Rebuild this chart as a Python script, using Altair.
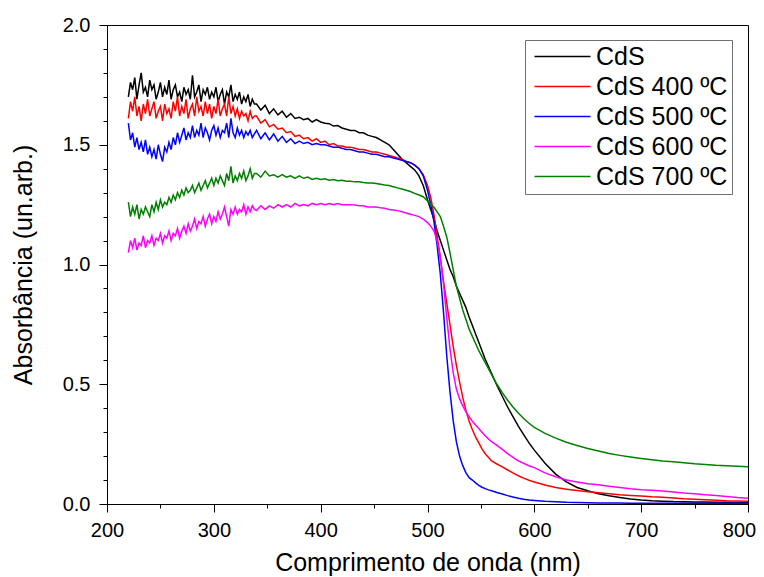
import altair as alt
import pandas as pd

# ---------------- data ----------------
SERIES = ["CdS", "CdS 400 ºC", "CdS 500 ºC", "CdS 600 ºC", "CdS 700 ºC"]
COLORS = ["#000000", "#ff0000", "#0000ff", "#ff00ff", "#008000"]

# wavelength grid (nm)
WL_A1 = list(range(220, 340, 2))   # 60 points, noisy start
WL_A2 = list(range(340, 500, 4))   # 40 points, plateau
WL_B = list(range(500, 560, 3))    # 20 points, absorption edge
WL_C = list(range(560, 600, 5))    # 8 points
WL_D = list(range(600, 801, 10))   # 21 points, tail
WAVELENGTH = WL_A1 + WL_A2 + WL_B + WL_C + WL_D

CDS = [
    1.70, 1.76, 1.73, 1.78, 1.69, 1.75, 1.80, 1.72, 1.74, 1.70,
    1.77, 1.73, 1.75, 1.69, 1.72, 1.76, 1.70, 1.74, 1.71, 1.77,
    1.69, 1.73, 1.75, 1.70, 1.72, 1.68, 1.74, 1.71, 1.73, 1.69,
    1.79, 1.70, 1.72, 1.75, 1.68, 1.73, 1.71, 1.74, 1.69, 1.72,
    1.70, 1.74, 1.68, 1.71, 1.73, 1.67, 1.72, 1.70, 1.75, 1.68,
    1.71, 1.69, 1.72, 1.67, 1.70, 1.68, 1.71, 1.66, 1.69, 1.67,
    1.67, 1.645, 1.665, 1.63, 1.65, 1.625, 1.64, 1.615, 1.63, 1.61,
    1.615, 1.605, 1.61, 1.595, 1.605, 1.595, 1.59, 1.588, 1.578, 1.58,
    1.57, 1.565, 1.56, 1.56, 1.55, 1.55, 1.54, 1.535, 1.53, 1.52,
    1.51, 1.50, 1.48, 1.46, 1.44, 1.425, 1.41, 1.395, 1.37, 1.33,
    1.27, 1.23, 1.19, 1.14, 1.10, 1.06, 1.02, 0.98, 0.95, 0.91,
    0.88, 0.85, 0.82, 0.78, 0.745, 0.71, 0.675, 0.64, 0.605, 0.575,
    0.545, 0.495, 0.45, 0.405, 0.365, 0.325, 0.29, 0.255,
    0.225, 0.17, 0.125, 0.092, 0.069, 0.055, 0.043, 0.034, 0.027, 0.021,
    0.017, 0.014, 0.012, 0.010, 0.009, 0.008, 0.008, 0.007, 0.007, 0.006, 0.006,
]
CDS_400 = [
    1.61, 1.68, 1.64, 1.70, 1.62, 1.66, 1.60, 1.67, 1.63, 1.69,
    1.62, 1.65, 1.68, 1.61, 1.64, 1.66, 1.60, 1.67, 1.63, 1.65,
    1.61, 1.68, 1.64, 1.70, 1.62, 1.66, 1.63, 1.69, 1.61, 1.65,
    1.67, 1.62, 1.70, 1.64, 1.66, 1.62, 1.68, 1.63, 1.67, 1.61,
    1.66, 1.63, 1.69, 1.62, 1.65, 1.67, 1.62, 1.70, 1.63, 1.66,
    1.62, 1.65, 1.61, 1.64, 1.62, 1.63, 1.60, 1.64, 1.61, 1.62,
    1.62, 1.59, 1.605, 1.575, 1.585, 1.565, 1.57, 1.55, 1.555, 1.535,
    1.54, 1.525, 1.53, 1.515, 1.525, 1.51, 1.515, 1.50, 1.505, 1.495,
    1.495, 1.49, 1.49, 1.485, 1.48, 1.48, 1.475, 1.47, 1.47, 1.465,
    1.46, 1.455, 1.45, 1.445, 1.44, 1.43, 1.425, 1.415, 1.40, 1.375,
    1.33, 1.28, 1.21, 1.12, 1.03, 0.93, 0.84, 0.75, 0.66, 0.58,
    0.51, 0.445, 0.39, 0.345, 0.31, 0.28, 0.255, 0.23, 0.21, 0.195,
    0.18, 0.167, 0.155, 0.142, 0.13, 0.118, 0.108, 0.099,
    0.092, 0.079, 0.069, 0.062, 0.056, 0.051, 0.047, 0.043, 0.039, 0.036,
    0.033, 0.030, 0.028, 0.025, 0.022, 0.020, 0.018, 0.016, 0.014, 0.013, 0.012,
]
CDS_500 = [
    1.59, 1.52, 1.55, 1.49, 1.53, 1.48, 1.51, 1.47, 1.52, 1.46,
    1.49, 1.45, 1.48, 1.44, 1.50, 1.46, 1.43, 1.49, 1.47, 1.51,
    1.48, 1.53, 1.50, 1.55, 1.51, 1.54, 1.57, 1.52, 1.55, 1.53,
    1.58, 1.53, 1.56, 1.54, 1.59, 1.53, 1.57, 1.55, 1.52, 1.56,
    1.58, 1.54, 1.57, 1.53, 1.56, 1.55, 1.59, 1.53, 1.61, 1.55,
    1.53, 1.57, 1.54, 1.56, 1.53, 1.555, 1.54, 1.56, 1.53, 1.545,
    1.56, 1.525, 1.55, 1.52, 1.545, 1.515, 1.535, 1.51, 1.525, 1.505,
    1.515, 1.505, 1.51, 1.50, 1.505, 1.50, 1.50, 1.495, 1.49, 1.49,
    1.485, 1.48, 1.48, 1.475, 1.47, 1.47, 1.465, 1.46, 1.46, 1.455,
    1.45, 1.45, 1.445, 1.44, 1.435, 1.43, 1.425, 1.415, 1.40, 1.37,
    1.31, 1.25, 1.18, 1.08, 0.96, 0.80, 0.62, 0.47, 0.35, 0.26,
    0.20, 0.16, 0.13, 0.11, 0.10, 0.088, 0.078, 0.07, 0.064, 0.059,
    0.055, 0.048, 0.042, 0.035, 0.029, 0.024, 0.02, 0.017,
    0.015, 0.011, 0.009, 0.007, 0.006, 0.005, 0.004, 0.004, 0.004, 0.003,
    0.003, 0.003, 0.003, 0.003, 0.003, 0.003, 0.003, 0.003, 0.003, 0.003, 0.003,
]
CDS_600 = [
    1.05, 1.10, 1.07, 1.11, 1.06, 1.09, 1.08, 1.12, 1.07, 1.10,
    1.09, 1.12, 1.08, 1.11, 1.10, 1.13, 1.09, 1.12, 1.11, 1.14,
    1.10, 1.13, 1.12, 1.15, 1.11, 1.14, 1.16, 1.13, 1.17, 1.14,
    1.16, 1.19, 1.15, 1.18, 1.17, 1.20, 1.16, 1.19, 1.21, 1.17,
    1.20, 1.18, 1.22, 1.19, 1.21, 1.24, 1.20, 1.16, 1.23, 1.21,
    1.24, 1.21, 1.23, 1.22, 1.25, 1.21, 1.24, 1.22, 1.245, 1.23,
    1.225, 1.245, 1.23, 1.245, 1.235, 1.25, 1.24, 1.25, 1.24, 1.255,
    1.245, 1.25, 1.245, 1.255, 1.25, 1.255, 1.25, 1.255, 1.25, 1.255,
    1.25, 1.25, 1.25, 1.248, 1.245, 1.245, 1.24, 1.24, 1.24, 1.237,
    1.235, 1.23, 1.228, 1.225, 1.22, 1.215, 1.21, 1.205, 1.20, 1.19,
    1.175, 1.16, 1.14, 1.10, 1.03, 0.92, 0.78, 0.65, 0.55, 0.48,
    0.44, 0.41, 0.385, 0.365, 0.345, 0.33, 0.315, 0.30, 0.285, 0.272,
    0.26, 0.245, 0.228, 0.21, 0.195, 0.18, 0.17, 0.16,
    0.152, 0.13, 0.114, 0.10, 0.092, 0.085, 0.08, 0.074, 0.069, 0.064,
    0.06, 0.057, 0.054, 0.05, 0.046, 0.043, 0.039, 0.035, 0.031, 0.027, 0.024,
]
CDS_700 = [
    1.26, 1.20, 1.24, 1.21, 1.25, 1.19, 1.23, 1.21, 1.24, 1.22,
    1.20, 1.25, 1.22, 1.26, 1.23, 1.27, 1.24, 1.26, 1.25, 1.28,
    1.26, 1.29, 1.27, 1.30, 1.28, 1.31, 1.29, 1.32, 1.30, 1.31,
    1.33, 1.30, 1.32, 1.34, 1.31, 1.33, 1.35, 1.32, 1.34, 1.36,
    1.33, 1.36, 1.34, 1.37, 1.35, 1.33, 1.38, 1.35, 1.41, 1.34,
    1.37, 1.35, 1.38, 1.36, 1.39, 1.35, 1.37, 1.40, 1.36, 1.38,
    1.38, 1.365, 1.39, 1.37, 1.375, 1.365, 1.375, 1.365, 1.37, 1.36,
    1.37, 1.36, 1.365, 1.355, 1.36, 1.355, 1.358, 1.352, 1.355, 1.35,
    1.352, 1.348, 1.348, 1.345, 1.345, 1.342, 1.34, 1.34, 1.338, 1.335,
    1.332, 1.33, 1.325, 1.32, 1.315, 1.31, 1.305, 1.297, 1.29, 1.283,
    1.265, 1.25, 1.24, 1.22, 1.20, 1.16, 1.115, 1.05, 0.98, 0.91,
    0.86, 0.81, 0.77, 0.73, 0.70, 0.67, 0.64, 0.615, 0.59, 0.565,
    0.54, 0.50, 0.465, 0.433, 0.405, 0.38, 0.357, 0.337,
    0.32, 0.295, 0.275, 0.258, 0.244, 0.232, 0.221, 0.211, 0.203, 0.196,
    0.19, 0.185, 0.18, 0.176, 0.172, 0.168, 0.165, 0.162, 0.16, 0.158, 0.156,
]

# axis ticks: major (labelled) and minor (unlabelled)
X_TICKS = [200, 250, 300, 350, 400, 450, 500, 550, 600, 650, 700, 750, 800]
Y_TICKS = [0.0, 0.1, 0.2, 0.3, 0.4, 0.5, 0.6, 0.7, 0.8, 0.9, 1.0,
           1.1, 1.2, 1.3, 1.4, 1.5, 1.6, 1.7, 1.8, 1.9, 2.0]

X_TITLE = "Comprimento de onda (nm)"
Y_TITLE = "Absorbância (un.arb.)"

# ---------------- table ----------------
rows = []
for name, vals in zip(SERIES, [CDS, CDS_400, CDS_500, CDS_600, CDS_700]):
    for w, v in zip(WAVELENGTH, vals):
        rows.append({"wl": w, "absorb": v, "amostra": name})
df = pd.DataFrame(rows)

FONT = "Liberation Sans"
X_MAJOR_TEST = "datum.value % 100 == 0"
Y_MAJOR_TEST = "abs(datum.value * 2 - round(datum.value * 2)) < 0.001"

chart = alt.Chart(df).mark_line(strokeWidth=1.5, clip=True).encode(
    x=alt.X("wl:Q", scale=alt.Scale(domain=[200, 800], nice=False, zero=False),
            axis=alt.Axis(values=X_TICKS, title=X_TITLE,
                          tickSize={"condition": {"test": X_MAJOR_TEST, "value": 8},
                                    "value": 4},
                          labelExpr=f"{X_MAJOR_TEST} ? datum.label : ''",
                          labelOffset={"condition": {"test": "datum.value == 800",
                                                     "value": -9},
                                       "value": 0},
                          labelPadding=8, titlePadding=10, labelFlush=False,
                          labelOverlap=False, orient="bottom")),
    y=alt.Y("absorb:Q", scale=alt.Scale(domain=[0, 2], nice=False, zero=False),
            axis=alt.Axis(values=Y_TICKS, format=".1f", title=Y_TITLE,
                          tickSize={"condition": {"test": Y_MAJOR_TEST, "value": 8},
                                    "value": 4},
                          labelExpr=f"{Y_MAJOR_TEST} ? datum.label : ''",
                          labelPadding=9, titlePadding=26,
                          labelFlush=False, labelOverlap=False, orient="left")),
    color=alt.Color("amostra:N", title=None,
                    scale=alt.Scale(domain=SERIES, range=COLORS),
                    sort=SERIES,
                    legend=alt.Legend(orient="none", legendX=418, legendY=15,
                                      symbolType="M-1,0H7", symbolSize=196,
                                      symbolStrokeWidth=1.5,
                                      labelFontSize=25, labelFont=FONT,
                                      labelColor="black", labelOffset=42,
                                      rowPadding=4, padding=4,
                                      strokeColor="#707070", fillColor="white")),
).properties(
    width=641, height=479,
    autosize=alt.AutoSizeParams(type="none"),
    padding={"left": 99, "top": 17, "right": 8, "bottom": 73},
).configure_view(
    stroke="black", strokeWidth=1
).configure_axis(
    labelFont=FONT, titleFont=FONT, labelFontSize=20,
    titleFontSize=25, titleFontWeight="normal",
    labelColor="black", titleColor="black",
    tickColor="black", domainColor="black", grid=False,
    tickWidth=1, domainWidth=1,
)

chart.save("out.html", embed_options={"renderer": "svg", "actions": False})
